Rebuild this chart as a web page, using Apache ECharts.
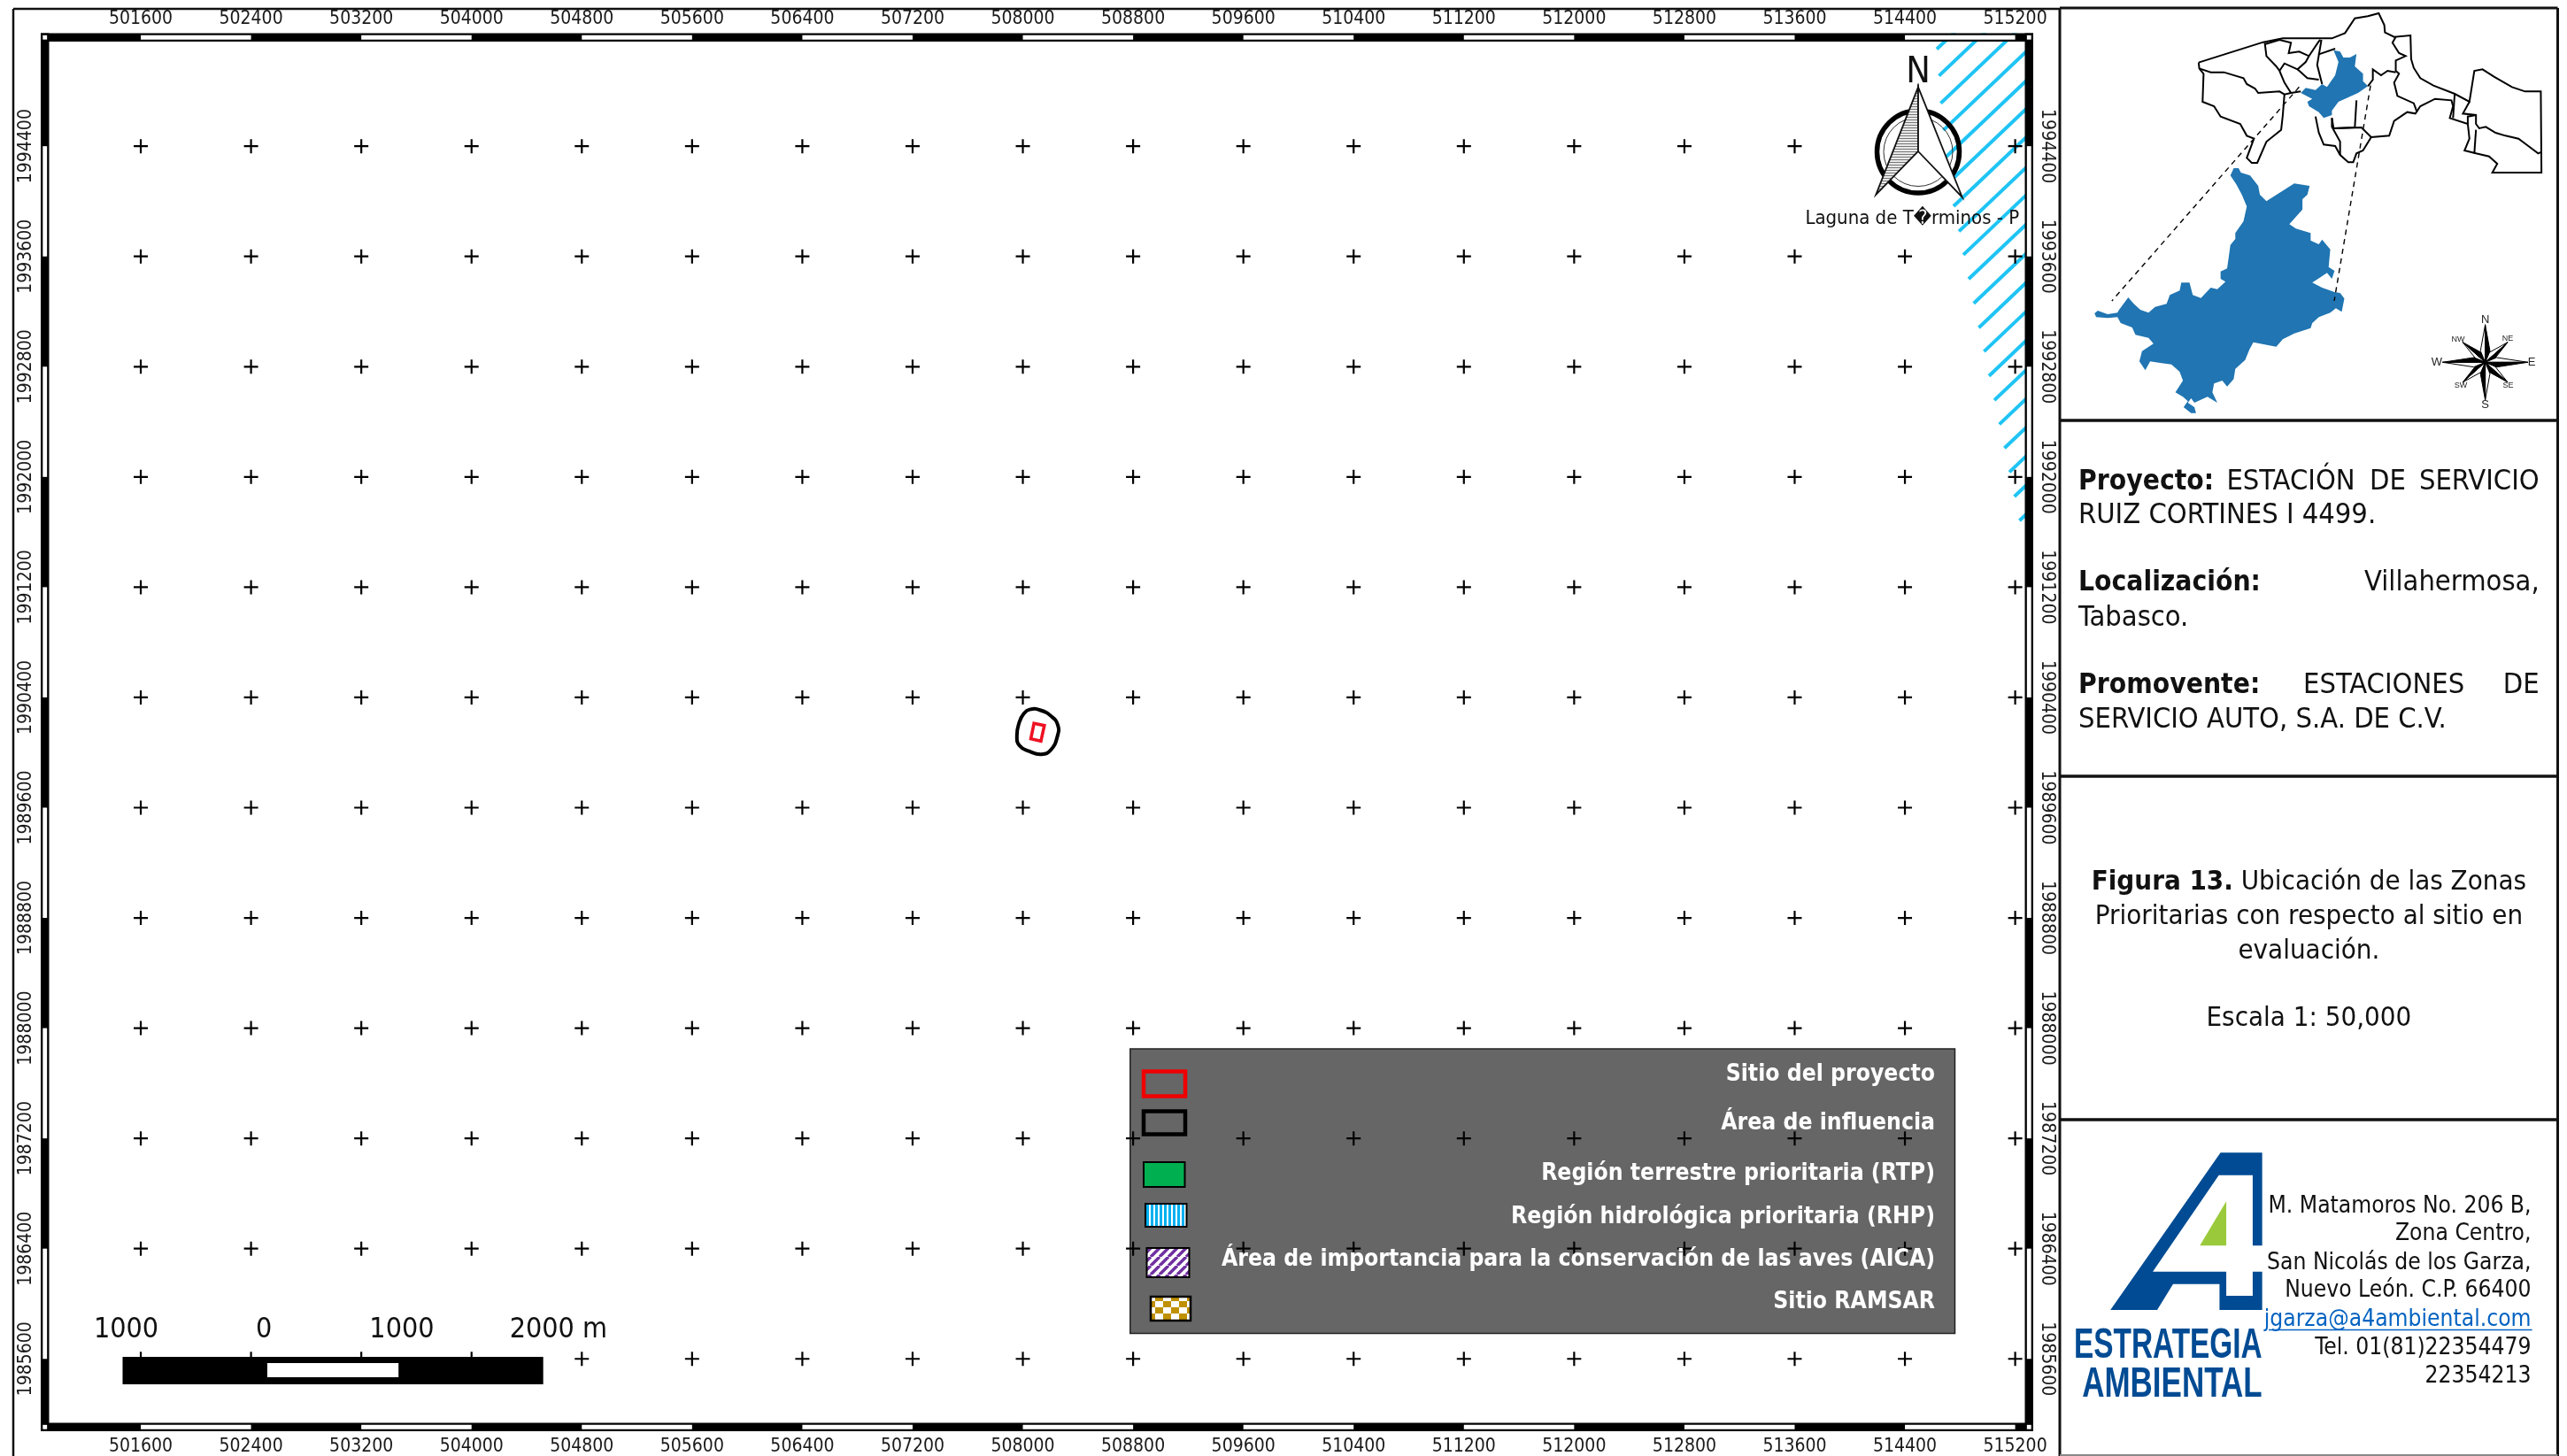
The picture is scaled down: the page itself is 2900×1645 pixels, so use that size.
<!DOCTYPE html>
<html><head><meta charset="utf-8">
<style>html,body{margin:0;padding:0;background:#fff}#c{width:2900px;height:1645px}</style>
<script src="https://cdn.jsdelivr.net/npm/echarts@6/dist/echarts.min.js"></script>
</head><body><div id="c"></div>
<script>
// ---------- tick values (UTM metres) ----------
const xTicks = [501600,502400,503200,504000,504800,505600,506400,507200,508000,508800,509600,510400,511200,512000,512800,513600,514400,515200];
const yTicks = [1994400,1993600,1992800,1992000,1991200,1990400,1989600,1988800,1988000,1987200,1986400,1985600];
// ---------- map features (UTM metres) ----------
const influenceArea = [[508049,1990312],[508124,1990308],[508210,1990260],[508253,1990201],[508253,1990126],[508203,1990019],[508135,1989987],[508049,1990008],[507975,1990051],[507957,1990126],[507975,1990222],[508007,1990282]];
const projectSite = [[508081,1990212],[508156,1990196],[508131,1990083],[508058,1990100]];
const rhpHatchStarts = [[514631,1995104],[514647,1994911],[514660,1994712],[514679,1994516],[514700,1994324],[514728,1994146],[514753,1993964],[514792,1993782],[514824,1993612],[514862,1993436],[514899,1993259],[514936,1993083],[514974,1992910],[515010,1992733],[515049,1992557],[515085,1992382],[515122,1992209],[515158,1992035],[515194,1991858],[515231,1991683]];
const scaleValues = [-1000,0,1000,2000];
// ---------- inset map outlines (inset units) ----------
const municipioZoom = [[550,570],[565,570],[572,585],[600,595],[625,630],[630,660],[650,682],[735,622],[782,630],[775,660],[760,675],[760,710],[720,760],[740,775],[785,790],[785,815],[810,828],[820,812],[845,845],[840,905],[858,918],[850,945],[835,925],[815,940],[790,958],[820,975],[858,990],[875,993],[888,1012],[880,1057],[862,1045],[845,1060],[810,1075],[790,1095],[785,1112],[735,1130],[700,1150],[680,1175],[645,1168],[610,1160],[598,1185],[585,1220],[555,1250],[550,1285],[530,1310],[515,1290],[490,1300],[485,1330],[500,1365],[470,1345],[430,1365],[420,1350],[410,1365],[430,1380],[435,1400],[420,1400],[397,1380],[410,1360],[395,1345],[372,1330],[395,1290],[385,1260],[360,1235],[325,1230],[295,1225],[280,1255],[262,1225],[270,1190],[305,1165],[290,1145],[250,1135],[240,1110],[205,1095],[195,1075],[165,1078],[130,1075],[125,1062],[135,1053],[165,1065],[195,1060],[200,1050],[228,1008],[245,1030],[265,1050],[290,1060],[310,1040],[345,1030],[355,1000],[385,985],[390,958],[415,958],[425,1000],[450,1010],[480,975],[500,980],[525,955],[510,945],[510,920],[530,910],[540,830],[555,810],[555,790],[580,750],[590,700],[575,660],[558,625],[540,595]];
const municipioState = [[855,170],[875,175],[885,195],[905,195],[925,183],[920,225],[945,250],[945,275],[960,292],[930,315],[900,330],[870,345],[850,375],[850,390],[825,400],[810,380],[780,360],[775,345],[790,335],[755,315],[770,298],[800,305],[820,285],[835,295],[860,255],[870,210]];
const stateOutlines = [
 [[443,212],[520,185],[640,143],[700,130],[850,130],[890,112],[920,62],[960,55],[993,45],[1010,85],[1012,110],[1040,125],[1090,120],[1092,200],[1100,230],[1120,265],[1160,290],[1225,318],[1270,345],[1285,240],[1310,235],[1345,260],[1400,295],[1440,310],[1488,310],[1490,585],[1340,585],[1355,555],[1330,530],[1290,520],[1255,510],[1270,470],[1265,420],[1210,400],[1220,360],[1215,340],[1165,335],[1120,360],[1105,385],[1080,380],[1040,410],[1025,460],[970,465],[945,510],[925,520],[915,550],[900,550],[875,525],[860,495],[825,490],[810,450],[800,395]],
 [[443,212],[445,232],[458,250],[455,345],[490,360],[510,395],[570,420],[590,460],[612,470],[590,535],[605,552],[622,552],[650,480],[695,440],[700,390],[705,320]],
 [[445,232],[480,245],[520,245],[580,265],[590,285],[615,300],[625,315],[690,310],[705,320],[725,315],[755,310]],
 [[645,145],[650,190],[680,225],[690,240],[705,280],[725,315]],
 [[645,150],[690,135],[725,145],[718,180],[750,175],[780,190],[810,140],[815,135]],
 [[690,240],[705,215],[745,235],[770,210],[780,190]],
 [[745,235],[775,265],[810,270]],
 [[818,135],[805,220],[820,285]],
 [[808,185],[860,165]],
 [[1045,125],[1035,145],[1055,180],[1075,190],[1045,205],[1045,240],[1055,250],[1040,280],[1050,325],[1100,350],[1110,380]],
 [[960,292],[975,270],[975,235],[1000,255],[1020,240],[1045,245]],
 [[925,340],[920,432],[855,435],[850,400]],
 [[855,435],[940,432],[970,465]],
 [[850,400],[850,430],[875,480],[875,525]],
 [[1225,318],[1220,400]],
 [[1270,345],[1250,385],[1290,390],[1290,420],[1300,435],[1320,430],[1350,450],[1380,460],[1420,470],[1450,495],[1480,520],[1490,515]],
 [[1290,440],[1285,520]],
 [[1290,390],[1265,395],[1265,420]]
];
const zoomLines = [[[750,295],[178,1020]],[[968,290],[857,1020]]];
// ---------- text ----------
const legendLabels = ['Sitio del proyecto','Área de influencia','Región terrestre prioritaria (RTP)','Región hidrológica prioritaria (RHP)','Área de importancia para la conservación de las aves (AICA)','Sitio RAMSAR'];
const addressLines = ['M. Matamoros No. 206 B,','Zona Centro,','San Nicolás de los Garza,','Nuevo León. C.P. 66400','jgarza@a4ambiental.com','Tel. 01(81)22354479','22354213'];

const F = '"DejaVu Sans Condensed","DejaVu Sans",sans-serif';
const chart = echarts.init(document.getElementById('c'), null, {renderer:'canvas', width:2900, height:1645});

const X0=500874, X1=515331, Y0=1985075, Y1=1995220, BAND=61, INSET=15;
const crosses=[]; yTicks.forEach(y=>xTicks.forEach(x=>crosses.push([x,y])));

function rectSeries(name,rows,color,z,stroke){
  return {type:'custom',name,silent:true,z,animation:false,xAxisIndex:0,yAxisIndex:0,encode:{x:[0,2],y:[1,3]},data:rows,
    renderItem(p,api){
      const a=api.coord([api.value(0),api.value(1)]),b=api.coord([api.value(2),api.value(3)]);
      return {type:'rect',shape:{x:Math.min(a[0],b[0]),y:Math.min(a[1],b[1]),width:Math.abs(a[0]-b[0]),height:Math.abs(a[1]-b[1])},style:{fill:color,stroke:stroke||null,lineWidth:stroke?1:0}};
    }};
}
function shapeSeries(name,pts,opt){
  return {type:'custom',name,silent:true,animation:false,z:opt.z||3,xAxisIndex:opt.axis,yAxisIndex:opt.axis,encode:{x:0,y:1},data:pts,
    renderItem(p,api){
      if(p.dataIndex!==0) return null;
      const points=pts.map(q=>api.coord(q));
      return {type:opt.shape,shape:{points,smooth:opt.smooth||0},style:{fill:opt.fill||null,stroke:opt.stroke||null,lineWidth:opt.lw||0,lineDash:opt.dash||null}};
    }};
}
const bandBlack=[[X0,Y1,X1,Y1-BAND],[X0,Y0+BAND,X1,Y0],[X0,Y1,X0+BAND,Y0],[X1-BAND,Y1,X1,Y0]];
const bandWhite=[];
xTicks.forEach((t,i)=>{ if(i%2===0&&i<xTicks.length-1){
  bandWhite.push([t,Y1-INSET,xTicks[i+1],Y1-BAND+INSET]); bandWhite.push([t,Y0+BAND-INSET,xTicks[i+1],Y0+INSET]);}});
yTicks.forEach((t,i)=>{ if(i%2===0&&i<yTicks.length-1){
  bandWhite.push([X0+INSET,t,X0+BAND-INSET,yTicks[i+1]]); bandWhite.push([X1-BAND+INSET,t,X1-INSET,yTicks[i+1]]);}});
[[X0,Y1],[X1-BAND,Y1],[X0,Y0+BAND],[X1-BAND,Y0+BAND]].forEach(c=>bandWhite.push([c[0]+INSET,c[1]-INSET,c[0]+BAND-INSET,c[1]-BAND+INSET]));

const scaleZero=502494, scaleTop=1985615, scaleBottom=1985416;
const scaleBlack=[[scaleZero+scaleValues[0]-26,scaleTop,scaleZero+scaleValues[3]+26,scaleBottom]];
const scaleWhite=[[scaleZero+24,scaleTop-45,scaleZero+scaleValues[2]-24,scaleBottom+51]];

function axisLabelCommon(margin,rotate,vals){
  return {show:true,customValues:vals,margin,rotate,fontFamily:F,fontSize:21,color:'#1a1a1a',formatter:v=>String(v)};
}
const hiddenAxis={show:false};
const option={
  animation:false,backgroundColor:'#fff',
  grid:[{left:46,top:37.5,width:2251,height:1581.5},{left:2320,top:0,width:580,height:480}],
  xAxis:[
    {type:'value',gridIndex:0,position:'top',min:X0,max:X1,axisLine:hiddenAxis,axisTick:hiddenAxis,splitLine:hiddenAxis,axisLabel:axisLabelCommon(5,0,xTicks)},
    {type:'value',gridIndex:0,position:'bottom',min:X0,max:X1,axisLine:hiddenAxis,axisTick:hiddenAxis,splitLine:hiddenAxis,axisLabel:axisLabelCommon(7,0,xTicks)},
    {type:'value',gridIndex:1,min:0,max:1568,show:false}
  ],
  yAxis:[
    {type:'value',gridIndex:0,position:'left',min:Y0,max:Y1,axisLine:hiddenAxis,axisTick:hiddenAxis,splitLine:hiddenAxis,axisLabel:axisLabelCommon(6,90,yTicks)},
    {type:'value',gridIndex:0,position:'right',min:Y0,max:Y1,axisLine:hiddenAxis,axisTick:hiddenAxis,splitLine:hiddenAxis,axisLabel:axisLabelCommon(5,-90,yTicks)},
    {type:'value',gridIndex:1,min:0,max:1440,inverse:true,show:false}
  ],
  series:[
    {type:'custom',name:'RHP',silent:true,animation:false,clip:true,z:2,xAxisIndex:0,yAxisIndex:0,encode:{x:0,y:1},data:rhpHatchStarts,
      renderItem(p,api){
        const a=api.coord([api.value(0),api.value(1)]);
        const d=X1-api.value(0);
        const b=api.coord([X1,api.value(1)+d*0.95]);
        return {type:'line',shape:{x1:a[0],y1:a[1],x2:b[0],y2:b[1]},style:{stroke:'#1fc4f4',lineWidth:4}};
      }},
    {type:'scatter',name:'Retícula',silent:true,z:5,xAxisIndex:0,yAxisIndex:0,data:crosses,symbol:'path://M6.9 0h2.2v6.9H16v2.2H9.1V16H6.9V9.1H0V6.9h6.9z',symbolSize:16,itemStyle:{color:'#000',opacity:1}},
    shapeSeries('Área de influencia',influenceArea,{shape:'polygon',axis:0,stroke:'#000',lw:4,smooth:0.5,z:4}),
    shapeSeries('Sitio del proyecto',projectSite,{shape:'polygon',axis:0,stroke:'#ee1122',lw:3.6,z:4}),
    rectSeries('Marco',bandBlack,'#000',7),
    rectSeries('MarcoB',bandWhite,'#fff',8),
    rectSeries('Escala',scaleBlack,'#000',6),
    rectSeries('EscalaB',scaleWhite,'#fff',6.5),
    {type:'custom',name:'EscalaT',silent:true,animation:false,z:6,xAxisIndex:0,yAxisIndex:0,encode:{x:0},data:scaleValues.map(v=>[v]),
      renderItem(p,api){
        const v=api.value(0), c=api.coord([scaleZero+v,scaleTop]);
        const last=p.dataIndex===scaleValues.length-1;
        return {type:'text',style:{text:Math.abs(v)+(last?' m':''),x:last?c[0]-34:c[0],y:1503,align:last?'left':'center',verticalAlign:'middle',font:'32px '+F,fill:'#111'}};
      }},
    shapeSeries('Municipio',municipioZoom,{shape:'polygon',axis:2,fill:'#2075b2',z:3}),
    shapeSeries('MunicipioEstado',municipioState,{shape:'polygon',axis:2,fill:'#2075b2',z:3}),
    ...stateOutlines.map((l,i)=>shapeSeries('Estado'+i,l,{shape:'polyline',axis:2,stroke:'#000',lw:2,z:3})),
    ...zoomLines.map((l,i)=>shapeSeries('Guia'+i,l,{shape:'polyline',axis:2,stroke:'#000',lw:1.4,dash:[6,5],z:4}))
  ],
  graphic:{elements:buildGraphics()}
};

function buildGraphics(){
  const g=[];
  const line=(x1,y1,x2,y2,lw,color,z)=>g.push({type:'line',silent:true,z:z||20,shape:{x1,y1,x2,y2},style:{stroke:color||'#111',lineWidth:lw||3}});
  const text=(t,x,y,o={})=>g.push({type:'text',silent:true,z:o.z||20,scaleX:o.scaleX,scaleY:o.scaleY,originX:x,originY:y,style:{text:t,x,y,align:o.align||'left',verticalAlign:'middle',font:(o.weight?o.weight+' ':'')+(o.size||32)+'px '+(o.family||F),fill:o.fill||'#111',rich:o.rich}});
  const poly=(pts,fill,stroke,lw,z)=>g.push({type:'polygon',silent:true,z:z||20,shape:{points:pts},style:{fill,stroke:stroke||null,lineWidth:lw||0}});
  line(15,10,2327,10,2.5); line(15,10,15,1645,2.5);
  line(2327,9,2327,1645,3); line(2889.5,9,2889.5,1645,3); line(2327,9,2889.5,9,3);
  line(2327,475,2889.5,475,3.5); line(2327,877,2889.5,877,3.5); line(2327,1265,2889.5,1265,3.5); line(2327,1644,2889.5,1644,2,'#888');
  const BR=2868.7, BL=2348;
  const SZ=32.4, SB=31.5;
  text('Proyecto:',BL,544.5,{weight:'bold',size:SB}); text('ESTACIÓN',2515.4,544.5,{size:SZ}); text('DE',2677,544.5,{size:SZ}); text('SERVICIO',BR,544.5,{align:'right',size:SZ});
  text('RUIZ CORTINES I 4499.',BL,582.5,{size:SZ});
  text('Localización:',BL,658.5,{weight:'bold',size:SB}); text('Villahermosa,',BR,658.5,{align:'right',size:SZ});
  text('Tabasco.',BL,698.5,{size:SZ});
  text('Promovente:',BL,774.5,{weight:'bold',size:SB}); text('ESTACIONES',2602,774.5,{size:SZ}); text('DE',BR,774.5,{align:'right',size:SZ});
  text('SERVICIO AUTO, S.A. DE C.V.',BL,813.5,{size:SZ});
  const CX=2608.4, S3=31;
  g.push({type:'text',silent:true,z:20,style:{text:'{b|Figura 13.}{n| Ubicación de las Zonas}',x:CX,y:996.5,align:'center',verticalAlign:'middle',rich:{b:{font:'bold '+S3+'px '+F,fill:'#111'},n:{font:S3+'px '+F,fill:'#111'}}}});
  text('Prioritarias con respecto al sitio en',CX,1035.5,{align:'center',size:S3});
  text('evaluación.',CX,1074.5,{align:'center',size:S3});
  text('Escala 1: 50,000',CX,1150.5,{align:'center',size:S3});
  const addrY=[1363,1394,1427,1458,1491,1523,1555];
  addressLines.forEach((s,i)=>text(s,2859.5,addrY[i],{align:'right',size:26.2,fill:i===4?'#0563c1':'#111'}));
  line(2563,1502.5,2860.6,1502.5,1.6,'#0563c1');
  const lg=p=>p.map(q=>[2300+q[0]/2.613,1260+q[1]/3]);
  poly(lg([[220,660],[545,127],[668,127],[668,442],[640,442],[640,203],[540,203],[345,530],[562,530],[562,612],[640,612],[640,530],[668,530],[668,660],[542,660],[542,572],[405,572],[358,660]]),'#004b93');
  poly(lg([[562,292],[562,442],[484,442]]),'#9aca3c');
  text('ESTRATEGIA',2555.6,1521,{align:'right',weight:'bold',size:48,family:'"Liberation Sans"',fill:'#004b93',scaleX:0.695});
  text('AMBIENTAL',2555.6,1565,{align:'right',weight:'bold',size:48,family:'"Liberation Sans"',fill:'#004b93',scaleX:0.729});
  g.push({type:'circle',silent:true,z:9,shape:{cx:2167,cy:171.5,r:46.5},style:{fill:null,stroke:'#000',lineWidth:5.5}});
  g.push({type:'circle',silent:true,z:9,shape:{cx:2167,cy:171.5,r:39},style:{fill:null,stroke:'#333',lineWidth:1}});
  poly([[2167,98.3],[2119.3,220],[2167,171]],tile(4,3,(c)=>{c.fillStyle='#e8e8e8';c.fillRect(0,0,4,3);c.fillStyle='#777';c.fillRect(0,0,4,1);}),'#111',1.8,10);
  poly([[2167,98.3],[2216.7,222.7],[2167,171]],'#fff','#111',1.8,10);
  text('N',2167,82,{align:'center',size:41,z:10});
  text('Laguna de T\uFFFDrminos - P',2039.4,247,{size:22,z:6});
  const cx=2807.6,cy=409.3, rad=d=>d*Math.PI/180;
  const pt=(a,rx,ry)=>[cx+rx*Math.sin(rad(a)),cy-ry*Math.cos(rad(a))];
  [45,135,225,315,0,90,180,270].forEach(a=>{
    const diag=a%90!==0, rx=diag?36:48.2, ry=diag?32:42.5, s=diag?12:14;
    const tip=pt(a,rx,ry);
    poly([[cx,cy],tip,pt(a-22.5,s,s)],'#fff','#000',1,20);
    poly([[cx,cy],tip,pt(a+22.5,s,s)],'#000','#000',1,20);
  });
  [['N',2807.6,361.7,13],['S',2807.6,457,13],['W',2752.9,409.3,13],['E',2860,409.3,13],['NE',2833,383,9],['NW',2777,384,9],['SW',2780,436,9],['SE',2833.5,436,9]]
    .forEach(a=>text(a[0],a[1],a[2],{align:'center',size:a[3],family:'"Liberation Sans"',fill:'#222'}));
  g.push({type:'rect',silent:true,z:3,shape:{x:1276.8,y:1185,width:931.7,height:321.5},style:{fill:'#666666',stroke:'#222',lineWidth:1.5}});
  const legY=[1214,1269,1326,1375,1423.5,1471];
  legendLabels.forEach((s,i)=>text(s,2186,legY[i],{align:'right',weight:'bold',size:26.3,fill:'#fff',z:12}));
  const swatch=(x,y,w,h,fill,stroke,lw)=>g.push({type:'rect',silent:true,z:4,shape:{x,y,width:w,height:h},style:{fill,stroke,lineWidth:lw}});
  swatch(1292,1210.5,47,28,'#666666','#f00000',4.5);
  swatch(1292,1255.5,47,26,'#666666','#000',4.5);
  swatch(1292,1313,46.5,28,'#00b050','#000',2);
  swatch(1294,1360,46.5,26,tile(5,5,(c)=>{c.fillStyle='#fff';c.fillRect(0,0,5,5);c.fillStyle='#00b0f0';c.fillRect(0,0,3,5);}),'#000',2);
  swatch(1295.5,1410,48,33,tile(10,10,(c)=>{c.fillStyle='#fff';c.fillRect(0,0,10,10);c.strokeStyle='#7030a0';c.lineWidth=3.5;c.beginPath();for(let k=-10;k<=20;k+=10){c.moveTo(k,10);c.lineTo(k+10,0);}c.stroke();}),'#000',2);
  swatch(1300,1465,45,27,tile(18,14,(c)=>{c.fillStyle='#fff';c.fillRect(0,0,18,14);c.fillStyle='#bf9000';c.fillRect(0,0,9,7);c.fillRect(9,7,9,7);}),'#000',2.5);
  return g;
}
function tile(w,h,draw){
  const cv=document.createElement('canvas');cv.width=w;cv.height=h;draw(cv.getContext('2d'));
  return {image:cv,repeat:'repeat'};
}
chart.setOption(option);
</script></body></html>
